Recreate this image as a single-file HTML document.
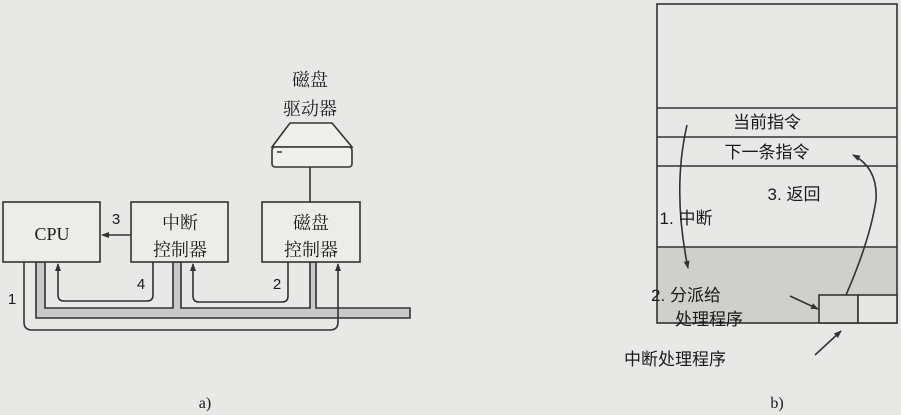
<!DOCTYPE html>
<html><head><meta charset="utf-8"><style>
html,body{margin:0;padding:0;background:#e8e8e6;}
svg{display:block;}
text{font-family:"Liberation Serif","Noto Serif CJK SC",serif;fill:#1a1a1a;}
.s{font-family:"Liberation Sans","Noto Sans CJK SC",sans-serif;}
</style></head><body>
<svg width="901" height="415" viewBox="0 0 901 415" xmlns="http://www.w3.org/2000/svg">
<defs>
<marker id="ah" markerWidth="8" markerHeight="8" refX="7" refY="4" orient="auto" markerUnits="userSpaceOnUse">
<path d="M0,1 L8,4 L0,7 Z" fill="#333"/></marker>
</defs>
<rect width="901" height="415" fill="#e8e8e6"/>
<g stroke="#333" stroke-width="1.6" fill="none">
<path d="M36,262 V318 H410 V308 H316 V262 H310 V308 H181 V262 H173 V308 H45 V262 Z" fill="#c9c9c7"/>
<rect x="3" y="202" width="97" height="60" fill="#ecece9"/>
<rect x="131" y="202" width="97" height="60" fill="#ecece9"/>
<rect x="262" y="202" width="98" height="60" fill="#ecece9"/>
<line x1="310" y1="167" x2="310" y2="202"/>
<path d="M272,147 L290,123 H332 L352,147 Z" fill="#efefec"/>
<rect x="272" y="147" width="80" height="20" rx="3" fill="#efefec"/>
<path d="M24,262 V322 Q24,330 32,330 H330 Q338,330 338,322 V264" marker-end="url(#ah)"/>
<path d="M153,262 V295 Q153,301 147,301 H64 Q58,301 58,295 V264" marker-end="url(#ah)"/>
<path d="M288,262 V296 Q288,302 282,302 H199 Q193,302 193,296 V264" marker-end="url(#ah)"/>
<line x1="131" y1="235" x2="102" y2="235" marker-end="url(#ah)"/>
</g>
<line x1="277" y1="152" x2="282" y2="152" stroke="#333" stroke-width="1.5"/>
<text x="52" y="240" font-size="18" text-anchor="middle">CPU</text>
<text x="180" y="229" font-size="18" text-anchor="middle">中断</text>
<text x="180" y="256" font-size="18" text-anchor="middle">控制器</text>
<text x="311" y="229" font-size="18" text-anchor="middle">磁盘</text>
<text x="311" y="256" font-size="18" text-anchor="middle">控制器</text>
<text x="310" y="86" font-size="18" text-anchor="middle">磁盘</text>
<text x="310" y="115" font-size="18" text-anchor="middle">驱动器</text>
<text class="s" x="12" y="304" font-size="15" text-anchor="middle">1</text>
<text class="s" x="141" y="289" font-size="15" text-anchor="middle">4</text>
<text class="s" x="277" y="289" font-size="15" text-anchor="middle">2</text>
<text class="s" x="116" y="224" font-size="15" text-anchor="middle">3</text>
<text x="205" y="408" font-size="16" text-anchor="middle">a)</text>

<g stroke="#333" stroke-width="1.6" fill="none">
<rect x="657" y="247" width="240" height="76" fill="#cfcfcc" stroke="none"/>
<rect x="657" y="4" width="240" height="319"/>
<line x1="657" y1="108" x2="897" y2="108"/>
<line x1="657" y1="137" x2="897" y2="137"/>
<line x1="657" y1="166" x2="897" y2="166"/>
<line x1="657" y1="247" x2="897" y2="247"/>
<rect x="819" y="295" width="39" height="28" fill="#d8d8d5"/>
<rect x="858" y="295" width="39" height="28" fill="#e6e6e3"/>
<path d="M687,125 Q672,190 688,268" marker-end="url(#ah)"/>
<path d="M846,295 Q870,240 876,200 Q878,168 853,155" marker-end="url(#ah)"/>
<line x1="790" y1="296" x2="818" y2="309" marker-end="url(#ah)"/>
<line x1="815" y1="355" x2="841" y2="331" marker-end="url(#ah)"/>
</g>
<text class="s" x="767" y="128" font-size="17" text-anchor="middle">当前指令</text>
<text class="s" x="767" y="158" font-size="17" text-anchor="middle">下一条指令</text>
<text class="s" x="794" y="200" font-size="17" text-anchor="middle">3. 返回</text>
<text class="s" x="686" y="224" font-size="17" text-anchor="middle">1. 中断</text>
<text class="s" x="686" y="301" font-size="17" text-anchor="middle">2. 分派给</text>
<text class="s" x="709" y="325" font-size="17" text-anchor="middle">处理程序</text>
<text class="s" x="675" y="365" font-size="17" text-anchor="middle">中断处理程序</text>
<text x="777" y="408" font-size="16" text-anchor="middle">b)</text>
</svg>
</body></html>
